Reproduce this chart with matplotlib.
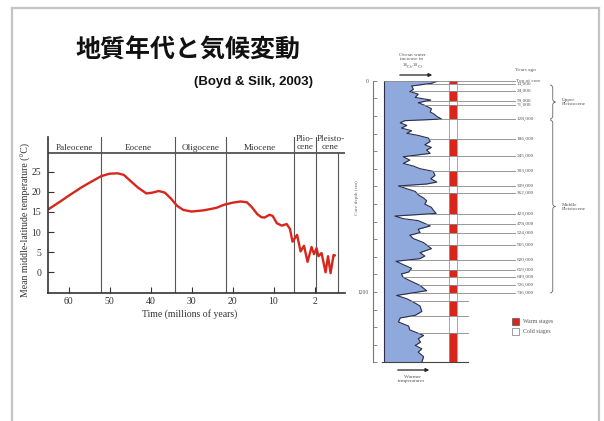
import numpy as np
import matplotlib
matplotlib.use('Agg')
import matplotlib.pyplot as plt
from matplotlib.patches import Rectangle, FancyArrowPatch, PathPatch
from matplotlib.path import Path

W, H = 604, 421

# --- left panel: mean middle-latitude temperature over the Cenozoic ---
epoch_names = ['Paleocene', 'Eocene', 'Oligocene', 'Miocene', 'Plio-\ncene', 'Pleisto-\ncene']
epoch_bounds = [65, 52, 34, 21.6, 5, 1.8, 0]
age_ma = [65, 62, 60, 57, 55, 52, 50, 48, 46.5, 45,
          43, 41, 39.5, 38, 36.5, 35, 33.5, 32, 30, 27,
          24, 22, 20, 18, 16.5, 15.3, 14, 13, 12.2, 11,
          10.2, 9.2, 8, 6.8, 6, 5.37, 4.56, 4.05, 3.55, 3.04,
          2.45, 2.09, 1.76, 1.6, 1.35, 1.02, 0.82, 0.61, 0.37, 0.25]
temp_c = [15.6, 17.6, 19.0, 21.0, 22.2, 23.9, 24.5, 24.6, 24.2, 22.8,
          21.0, 19.6, 19.8, 20.2, 19.8, 18.3, 16.5, 15.5, 15.1, 15.4,
          16.0, 16.8, 17.3, 17.6, 17.4, 16.2, 14.5, 13.7, 13.6, 14.3,
          14.0, 12.2, 11.6, 12.0, 10.8, 7.6, 9.3, 5.2, 6.6, 2.6,
          6.3, 4.5, 6.0, 4.0, 4.8, 0.0, 4.0, -0.2, 4.3, 4.2]
xtick_ages = [60, 50, 40, 30, 20, 10, 2]
xtick_labels = ['60', '50', '40', '30', '20', '10', '2']
ytick_vals = [0, 5, 10, 15, 20, 25]

# --- right panel: deep-sea core oxygen isotope record ---
core_depth = [0, 15, 30, 49, 62, 76, 95, 110, 125, 140,
              159, 178, 189, 205, 218, 227, 239, 254, 269, 284,
              299, 311, 326, 345, 364, 379, 394, 413, 432, 451,
              470, 485, 500, 515, 538, 557, 576, 587, 598, 614,
              629, 648, 667, 682, 701, 720, 739, 754, 769, 784,
              795, 811, 825, 844, 863, 878, 897, 920, 954, 977,
              996, 1011, 1026, 1045, 1066, 1087, 1098, 1117, 1136, 1163,
              1193, 1220, 1239, 1258, 1280, 1311, 1333, 1348, 1371, 1394,
              1416, 1431, 1447, 1466, 1485, 1504, 1523, 1542, 1568, 1600]
o18_index = [0.91, 0.79, 0.46, 0.49, 0.43, 0.57, 0.52, 0.78, 0.57, 0.68,
             0.79, 0.77, 0.83, 0.89, 0.96, 0.35, 0.27, 0.38, 0.29, 0.46,
             0.38, 0.57, 0.74, 0.77, 0.68, 0.79, 0.71, 0.77, 0.32, 0.43,
             0.32, 0.49, 0.60, 0.82, 0.85, 0.78, 0.88, 0.71, 0.24, 0.38,
             0.52, 0.57, 0.66, 0.71, 0.68, 0.79, 0.83, 0.87, 0.18, 0.32,
             0.57, 0.68, 0.77, 0.57, 0.60, 0.43, 0.49, 0.66, 0.79, 0.60,
             0.68, 0.60, 0.20, 0.32, 0.46, 0.41, 0.29, 0.32, 0.43, 0.60,
             0.71, 0.21, 0.38, 0.49, 0.60, 0.63, 0.52, 0.27, 0.24, 0.41,
             0.43, 0.54, 0.66, 0.57, 0.61, 0.52, 0.63, 0.57, 0.66, 0.63]
stage_depth = [0, 20, 59, 116, 137, 219, 333, 428, 511, 597, 636, 757,
               812, 864, 934, 1019, 1077, 1114, 1159, 1206, 1250, 1337, 1435, 1600]
stage_labels = ['Top of core', '13,000', '24,000', '59,000', '71,000', '128,000',
                '186,000', '245,000', '303,000', '339,000', '362,000', '423,000',
                '478,000', '524,000', '565,000', '620,000', '659,000', '689,000',
                '726,000', '736,000']

SERIF = 'Liberation Serif'
RED = '#d9261c'
BLUE = '#90a9dd'


def fx(px):
    return px / W


def fy(py):
    return 1 - py / H


fig = plt.figure(figsize=(W / 100, H / 100), dpi=100)
fig.patch.set_facecolor('white')

# slide frame
for xs, ys in [([11.5, 11.5], [421, 7.5]), ([11.5, 598.5], [7.5, 7.5]), ([598.5, 598.5], [7.5, 421])]:
    fig.add_artist(plt.Line2D([fx(x) for x in xs], [fy(y) for y in ys], color='#c4c4c4', lw=1.6))

fig.text(fx(188), fy(51), '地質年代と気候変動', family=['Noto Sans CJK JP'], fontsize=18,
         fontweight='bold', ha='center', va='center', color='#111')
fig.text(fx(313), fy(82), '(Boyd & Silk, 2003)', family='Liberation Sans', fontsize=9.5,
         fontweight='bold', ha='right', va='center', color='#111')

# ---------------- left panel ----------------
# broken time axis: the Pliocene and Pleistocene are stretched
age_knots = [-10, 0, 1.8, 5, 65, 100]
pos_knots = [-122, 0, 22, 44, 290, 433.5]


def fwd(a):
    return np.interp(a, age_knots, pos_knots)


def inv(p):
    return np.interp(p, pos_knots, age_knots)


ax = fig.add_axes([fx(48), fy(293), (345 - 48) / W, (293 - 137) / H])
ax.set_xscale('function', functions=(fwd, inv))
ax.set_xlim(65, -0.57)
ax.set_ylim(-5.14, 33.62)
ax.patch.set_alpha(0)
for s in ['top', 'right']:
    ax.spines[s].set_visible(False)
for s in ['left', 'bottom']:
    ax.spines[s].set_color('#333')
    ax.spines[s].set_linewidth(1.2)

ax.set_xticks(xtick_ages)
ax.set_xticklabels(xtick_labels)
ax.xaxis.set_minor_locator(matplotlib.ticker.NullLocator())
ax.set_yticks(ytick_vals)
ax.tick_params(direction='in', length=4, width=0.8, color='#333', labelsize=7,
               labelcolor='#333')
ax.tick_params(axis='x', pad=3)
ax.tick_params(axis='y', pad=5)
for lab in ax.get_xticklabels() + ax.get_yticklabels():
    lab.set_family(SERIF)

header_t = 29.7
ax.axhline(header_t, color='#333', lw=1.1)
for b in epoch_bounds[1:-1]:
    ax.axvline(b, color='#555', lw=0.8)
ax.plot([0, 0], [ax.get_ylim()[0], header_t], color='#555', lw=0.8)

right_edge = ax.get_xlim()[1]
for i, name in enumerate(epoch_names):
    b0 = epoch_bounds[i]
    b1 = epoch_bounds[i + 1] if i < len(epoch_names) - 1 else right_edge
    xc = inv((fwd(b0) + fwd(b1)) / 2)
    yc = 32.1 if '\n' in name else 30.8
    ax.text(xc, yc, name, family=SERIF, fontsize=6.6, ha='center', va='center',
            color='#333', linespacing=1.1, clip_on=False)

ax.plot(age_ma, temp_c, color=RED, lw=1.7, solid_capstyle='round', solid_joinstyle='round')

ax.set_xlabel('Time (millions of years)', family=SERIF, fontsize=7, color='#333')
ax.xaxis.set_label_coords((190 - 48) / 297, -0.10)
ax.set_ylabel('Mean middle-latitude temperature (°C)', family=SERIF, fontsize=7, color='#333')
ax.yaxis.set_label_coords(-17 / 297, (293 - 220) / 156)

# ---------------- right panel ----------------
def px2u(px):
    return (px - 384) / 60


ax2 = fig.add_axes([fx(373), fy(362.3), (600 - 373) / W, (362.3 - 80.7) / H])
ax2.set_xlim(px2u(373), px2u(600))
ax2.set_ylim(1600, 0)
ax2.patch.set_alpha(0)
for s in ['top', 'right', 'bottom']:
    ax2.spines[s].set_visible(False)
ax2.spines['left'].set_color('#777')
ax2.spines['left'].set_linewidth(0.8)
ax2.set_xticks([])
ax2.set_yticks(range(0, 1700, 100))
ax2.set_yticklabels(['0' if d == 0 else '1200' if d == 1200 else '' for d in range(0, 1700, 100)])
ax2.tick_params(axis='y', direction='in', length=3, width=0.6, color='#777', labelsize=4,
                labelcolor='#555', pad=3)
for lab in ax2.get_yticklabels():
    lab.set_family(SERIF)
ax2.set_ylabel('Core depth (cm)', family=SERIF, fontsize=3.8, color='#666')
ax2.yaxis.set_label_coords(-14 / 227, (362.3 - 198) / 281.6)

ax2.fill_betweenx(core_depth, 0, o18_index, color=BLUE, lw=0)
ax2.plot(o18_index, core_depth, color='#2b3048', lw=0.8)
ax2.plot([0, 0], [0, 1600], color='#2b3048', lw=0.8)
ax2.plot([px2u(382), px2u(468)], [1600, 1600], color='#444', lw=0.8, clip_on=False)

# warm / cold stage column
col_x0, col_w = px2u(448.5), px2u(456.5) - px2u(448.5)
for i in range(len(stage_depth) - 1):
    d0, d1 = stage_depth[i], stage_depth[i + 1]
    ax2.add_patch(Rectangle((col_x0, d0), col_w, d1 - d0,
                            facecolor=RED if i % 2 == 0 else 'white', edgecolor='none'))
ax2.plot([col_x0, col_x0], [0, 1600], color='#999', lw=0.6)
ax2.plot([col_x0 + col_w, col_x0 + col_w], [0, 1600], color='#999', lw=0.6)

# stage boundary lines and ages
for i, d in enumerate(stage_depth[:-1]):
    x0 = 0 if d == 0 else np.interp(d, core_depth, o18_index)
    if i < len(stage_labels):
        ax2.plot([x0, px2u(515)], [d, d], color='#888', lw=0.6)
        ax2.text(px2u(516.5), d, stage_labels[i], family=SERIF, fontsize=3.8,
                 ha='left', va='center', color='#555')
    else:
        ax2.plot([x0, px2u(468)], [d, d], color='#888', lw=0.6)

fig.text(fx(515), fy(70.5), 'Years ago', family=SERIF, fontsize=3.8, ha='left', va='center',
         color='#555')


def brace(x, y0, y1, w=5.5, r=3):
    ym = (y0 + y1) / 2
    pts = [(x, y0), (x + w / 2, y0), (x + w / 2, y0 + r), (x + w / 2, ym - r),
           (x + w / 2, ym), (x + w, ym), (x + w / 2, ym), (x + w / 2, ym + r),
           (x + w / 2, y1 - r), (x + w / 2, y1), (x, y1)]
    codes = [Path.MOVETO, Path.CURVE3, Path.CURVE3, Path.LINETO,
             Path.CURVE3, Path.CURVE3, Path.CURVE3, Path.CURVE3,
             Path.LINETO, Path.CURVE3, Path.CURVE3]
    verts = [(fx(px), fy(py)) for px, py in pts]
    fig.add_artist(PathPatch(Path(verts, codes), transform=fig.transFigure,
                             facecolor='none', edgecolor='#666', lw=0.6))


brace(550, 85, 119)
brace(550, 120, 293)
fig.text(fx(562), fy(102), 'Upper\nPleistocene', family=SERIF, fontsize=3.8, ha='left',
         va='center', color='#555', linespacing=1.2)
fig.text(fx(562), fy(207), 'Middle\nPleistocene', family=SERIF, fontsize=3.8, ha='left',
         va='center', color='#555', linespacing=1.2)

# legend
fig.add_artist(Rectangle((fx(511.7), fy(324.5)), 7.6 / W, 7 / H, transform=fig.transFigure,
                         facecolor=RED, edgecolor='#555', lw=0.5))
fig.add_artist(Rectangle((fx(511.7), fy(334.5)), 7.6 / W, 7 / H, transform=fig.transFigure,
                         facecolor='white', edgecolor='#777', lw=0.5))
fig.text(fx(523), fy(321), 'Warm stages', family=SERIF, fontsize=4.2, ha='left', va='center',
         color='#555')
fig.text(fx(523), fy(331), 'Cold stages', family=SERIF, fontsize=4.2, ha='left', va='center',
         color='#555')

# arrows and their captions
fig.add_artist(FancyArrowPatch((fx(397), fy(75)), (fx(435), fy(75)), transform=fig.transFigure,
                               arrowstyle='-|>', mutation_scale=5, lw=0.9, color='#222'))
fig.text(fx(412), fy(62), 'Ocean water\nincrease in\n$^{16}$O/$^{18}$O', family=SERIF,
         fontsize=3.9, ha='center', va='center', color='#555', linespacing=1.1)
fig.add_artist(FancyArrowPatch((fx(395), fy(370)), (fx(432), fy(370)), transform=fig.transFigure,
                               arrowstyle='-|>', mutation_scale=5, lw=0.9, color='#222'))
fig.text(fx(412), fy(379), 'Warmer\ntemperatures', family=SERIF, fontsize=3.9, ha='center',
         va='center', color='#555', linespacing=1.1)

fig.savefig('out.png', dpi=100)
